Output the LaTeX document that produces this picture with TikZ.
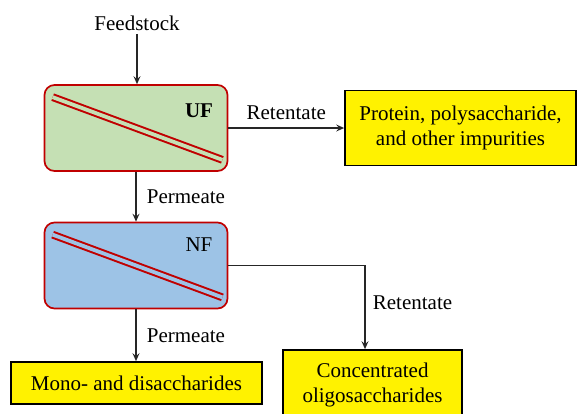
\documentclass[tikz,border=0pt]{standalone}
\usepackage{fontspec}
\setmainfont{Liberation Serif}
\usetikzlibrary{arrows.meta}
\definecolor{ufgreen}{RGB}{197,224,180}
\definecolor{nfblue}{RGB}{157,195,230}
\definecolor{membred}{RGB}{192,0,0}
\tikzset{
	unitbox/.style={draw=membred, line width=0.6mm, rounded corners=10pt, minimum width=183pt, minimum height=86pt},
	prodbox/.style={draw=black, fill=yellow, line width=0.6mm, align=center, inner sep=0pt, font=\rmfamily\fontsize{21}{25}\selectfont},
	flow/.style={line width=0.4mm, color=black!85, -{Stealth[length=8pt,width=7pt,inset=3pt]}},
	lbl/.style={font=\rmfamily\fontsize{21}{25}\selectfont, text=black}
}
\def\membrane(#1)(#2){\draw[line width=2pt, color=membred, double=#2, double distance=3.8pt] ([shift={(9,13)}]#1.north west) -- ([shift={(-6,-12)}]#1.south east);}

\begin{document}
\begin{tikzpicture}[x=1pt, y=-1pt]
			%%%%% START %%%%%
			\useasboundingbox (0,0) rectangle (577,413);
			\clip (0,0) rectangle (577,413);
			
			\node[unitbox, fill=ufgreen] (UF) at (136,128) {};
			\membrane(UF)(ufgreen)
			\node[lbl, font=\rmfamily\fontsize{21}{25}\selectfont\bfseries] (uflbl) at (199,111) {UF};
			
			\node[unitbox, fill=nfblue] (NF) at (136,265.5) {};
			\membrane(NF)(nfblue)
			\node[lbl] (nflbl) at (199,245) {NF};
			
			\node[lbl] (feed) at (137,23) {Feedstock};
			
			\node[prodbox, minimum width=231pt, minimum height=75pt] (prot) at (460.5,128) {Protein, polysaccharide,\\and other impurities};
			\node[prodbox, minimum width=251pt, minimum height=42pt] (mono) at (136.5,383) {Mono- and disaccharides};
			\node[prodbox, minimum width=179pt, minimum height=69pt] (conc) at (372.5,384.5) {Concentrated\\oligosaccharides};
			
			\draw[flow] (feed.south) -- (feed.south |- UF.north);
			\draw[flow] (UF.east) -- node[lbl, above, yshift=4pt] {Retentate} (prot.west);
			\draw[flow] (UF.south) -- node[lbl, right, xshift=7pt] {Permeate} (NF.north);
			\draw[flow] (NF.east) -| node[lbl, right, pos=0.72, xshift=4pt] {Retentate} ([xshift=-7.5pt]conc.north);
			\draw[flow] (NF.south) -- node[lbl, right, xshift=7pt] {Permeate} (NF.south |- mono.north);
			
			%%%%% END %%%%%
\end{tikzpicture}
\end{document}
